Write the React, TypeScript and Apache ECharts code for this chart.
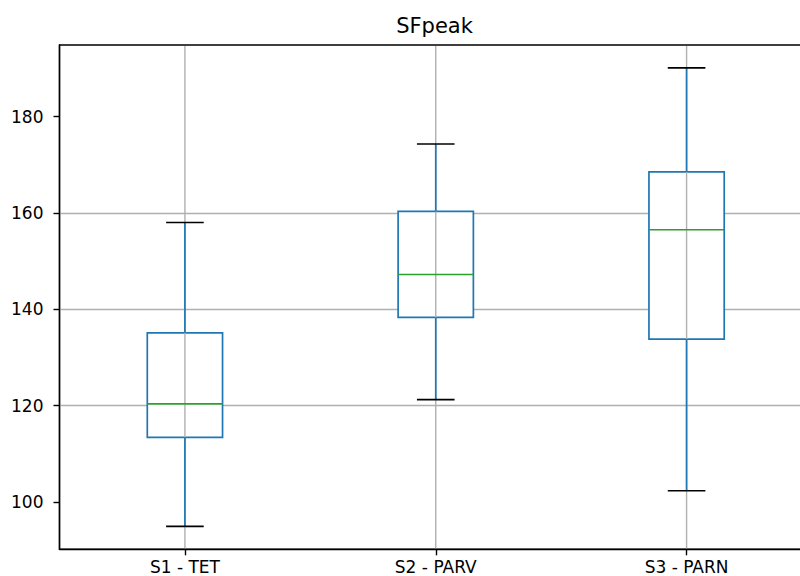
import React, { useEffect, useRef } from "react";
import * as echarts from "echarts";

const categories = ["S1 - TET", "S2 - PARV", "S3 - PARN"];
const whiskerLow = [94.9, 121.2, 102.3];
const quartile1 = [113.4, 138.3, 133.8];
const medians = [120.35, 147.2, 156.5];
const quartile3 = [135.1, 160.3, 168.5];
const whiskerHigh = [158.0, 174.3, 190.1];
const yTickLabels = [100, 120, 140, 160, 180];

const FONT = "DejaVu Sans";
const BLUE = "#1f77b4";
const GREEN = "#2ca02c";
const GRID = "#b0b0b0";

export default function App() {
  const ref = useRef<HTMLDivElement>(null);

  useEffect(() => {
    if (!ref.current) return;
    const chart = echarts.init(ref.current, undefined, { renderer: "svg" });

    const lo = Math.min(...whiskerLow);
    const hi = Math.max(...whiskerHigh);
    const pad = (hi - lo) * 0.05;

    const seriesData = categories.map((_, i) => [
      i,
      whiskerLow[i],
      quartile1[i],
      medians[i],
      quartile3[i],
      whiskerHigh[i],
    ]);

    const lw = 1.7;

    const renderItem = (params: any, api: any) => {
      const idx = api.value(0);
      const pLow = api.coord([idx, api.value(1)]);
      const pQ1 = api.coord([idx, api.value(2)]);
      const pMed = api.coord([idx, api.value(3)]);
      const pQ3 = api.coord([idx, api.value(4)]);
      const pHigh = api.coord([idx, api.value(5)]);
      const band = api.size([1, 0])[0];
      const halfBox = band * 0.15;
      const halfCap = band * 0.075;
      const cx = pMed[0];
      const cs = params.coordSys;
      const line = (x1: number, y1: number, x2: number, y2: number, stroke: string, width: number) => ({
        type: "line",
        shape: { x1, y1, x2, y2 },
        style: { stroke, lineWidth: width, fill: null },
      });
      return {
        type: "group",
        children: [
          line(cx, cs.y + 1, cx, cs.y + cs.height - 1, GRID, 1.4),
          line(cx, pQ1[1], cx, pLow[1], BLUE, lw),
          line(cx, pQ3[1], cx, pHigh[1], BLUE, lw),
          line(cx - halfCap, pLow[1], cx + halfCap, pLow[1], "#000", lw),
          line(cx - halfCap, pHigh[1], cx + halfCap, pHigh[1], "#000", lw),
          {
            type: "rect",
            shape: { x: cx - halfBox, y: pQ3[1], width: halfBox * 2, height: pQ1[1] - pQ3[1] },
            style: { stroke: BLUE, lineWidth: lw, fill: "#fff" },
          },
          line(cx, pQ1[1], cx, pQ3[1], GRID, 1.4),
          line(cx - halfBox, pMed[1], cx + halfBox, pMed[1], GREEN, lw),
        ],
      };
    };

    chart.setOption({
      animation: false,
      backgroundColor: "#fff",
      title: {
        text: "SFpeak",
        left: 429.5,
        textAlign: "center",
        top: 10,
        textStyle: { fontFamily: FONT, fontSize: 21, fontWeight: "normal", color: "#000" },
      },
      grid: {
        left: 59.5,
        top: 45,
        width: 752.5,
        height: 504.3,
        show: true,
        borderColor: "#000",
        borderWidth: 1.4,
        backgroundColor: "transparent",
      },
      xAxis: {
        type: "category",
        data: categories,
        boundaryGap: true,
        axisLine: { show: true, lineStyle: { color: "#000", width: 1.4 } },
        axisTick: { show: true, alignWithLabel: true, length: 6, lineStyle: { color: "#000", width: 1.4 } },
        axisLabel: { color: "#000", fontFamily: FONT, fontSize: 17, margin: 9 },
        splitLine: { show: false },
      },
      yAxis: {
        type: "value",
        min: lo - pad,
        max: hi + pad,
        axisLine: { show: true, lineStyle: { color: "#000", width: 1.4 } },
        axisTick: { show: true, length: 6, customValues: yTickLabels, lineStyle: { color: "#000", width: 1.4 } },
        axisLabel: { color: "#000", fontFamily: FONT, fontSize: 17, margin: 16, customValues: yTickLabels },
        splitLine: { show: true, showMinLine: false, showMaxLine: false, lineStyle: { color: GRID, width: 1.4 } },
      },
      series: [
        {
          type: "custom",
          renderItem,
          data: seriesData,
          encode: { x: 0, y: [1, 2, 3, 4, 5] },
          clip: false,
        },
      ],
    });

    return () => chart.dispose();
  }, []);

  return (
    <div
      style={{
        position: "fixed",
        left: 0,
        top: 0,
        width: 800,
        height: 576,
        overflow: "hidden",
        background: "#fff",
      }}
    >
      <div ref={ref} style={{ width: 830, height: 576 }} />
    </div>
  );
}
